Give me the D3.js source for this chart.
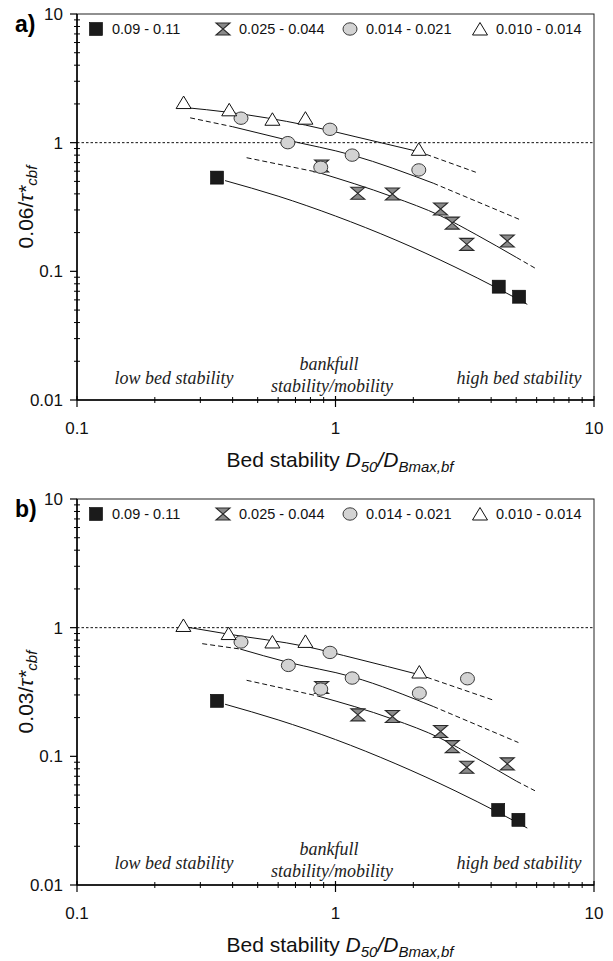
<!DOCTYPE html>
<html>
<head>
<meta charset="utf-8">
<script src="https://cdn.jsdelivr.net/npm/d3@7"></script>
<style>
  body { margin: 0; background: #fff; }
  svg { display: block; }
</style>
</head>
<body>
<div id="chart"></div>
<script>
// ---- data ----
var xTicks = [0.1, 1, 10];
var yTicks = [0.01, 0.1, 1, 10];
var legendLabels = ["0.09 - 0.11", "0.025 - 0.044", "0.014 - 0.021", "0.010 - 0.014"];
var zoneLabels = ["low bed stability", "bankfull", "stability/mobility", "high bed stability"];

// panel a) 0.06/tau*
var aSquares = [[0.348, 0.535], [4.28, 0.076], [5.13, 0.0635]];
var aHourglass = [[0.884, 0.659], [1.22, 0.404], [1.66, 0.399], [2.55, 0.305], [2.83, 0.237], [3.22, 0.162], [4.62, 0.172]];
var aCircles = [[0.431, 1.55], [0.654, 1.0], [0.877, 0.644], [0.952, 1.27], [1.16, 0.80], [2.10, 0.614]];
var aTriangles = [[0.2585, 2.05], [0.388, 1.80], [0.570, 1.52], [0.765, 1.55], [2.10, 0.888]];

var aSquareFit = [[0.374, 0.507], [0.6, 0.384], [1.0, 0.269], [1.7, 0.176], [2.9, 0.108], [4.3, 0.0726], [5.52, 0.0554]];
var aHourFit = [[0.453, 0.764], [0.85, 0.59], [1.66, 0.38], [2.55, 0.27], [3.5, 0.193], [5.02, 0.128], [5.91, 0.106]];
var aCircleFit = [[0.274, 1.56], [0.40, 1.33], [0.648, 1.05], [1.16, 0.80], [2.39, 0.484], [5.20, 0.251]];
var aTriangleFit = [[0.258, 1.88], [0.388, 1.72], [0.765, 1.37], [1.2, 1.11], [2.10, 0.851], [3.49, 0.589]];

// panel b) 0.03/tau*
var bSquares = [[0.348, 0.270], [4.26, 0.0383], [5.10, 0.0321]];
var bHourglass = [[0.884, 0.343], [1.22, 0.210], [1.66, 0.204], [2.55, 0.156], [2.83, 0.119], [3.22, 0.0822], [4.62, 0.0874]];
var bCircles = [[0.431, 0.774], [0.657, 0.509], [0.877, 0.333], [0.952, 0.642], [1.16, 0.406], [2.11, 0.310], [3.24, 0.401]];
var bTriangles = [[0.258, 1.04], [0.386, 0.90], [0.570, 0.774], [0.765, 0.782], [2.11, 0.452]];

var bSquareFit = [[0.374, 0.254], [0.6, 0.192], [1.0, 0.135], [1.7, 0.088], [2.9, 0.054], [4.3, 0.0363], [5.52, 0.0277]];
var bHourFit = [[0.453, 0.39], [0.85, 0.295], [1.66, 0.195], [2.55, 0.138], [3.5, 0.097], [5.02, 0.064], [5.91, 0.054]];
var bCircleFit = [[0.305, 0.751], [0.428, 0.682], [0.65, 0.54], [1.16, 0.415], [2.39, 0.244], [5.10, 0.128]];
var bTriangleFit = [[0.258, 1.02], [0.386, 0.89], [0.765, 0.715], [1.2, 0.575], [2.11, 0.431], [4.11, 0.272]];

// which point indices bound the solid part of each fit (rest dashed)
var aSolid = { sq: [0, 6], hg: [1, 5], ci: [1, 4], tr: [0, 4] };
var bSolid = { sq: [0, 6], hg: [1, 5], ci: [1, 4], tr: [0, 4] };

var W = 613, H = 961;
var left = 77, right = 594;

var svg = d3.select("#chart").append("svg")
    .attr("width", W).attr("height", H)
    .style("font-family", "'Liberation Sans', Arial, sans-serif");

var x = d3.scaleLog().domain([0.1, 10]).range([left, right]);

function hourglass() {
    var w = 7, h = 6;
    return "M" + (-w) + "," + (-h) + "L" + w + "," + (-h) + "L0,0L" + w + "," + h + "L" + (-w) + "," + h + "L0,0Z";
}
function triangle() { return "M0,-6.5L7.5,6L-7.5,6Z"; }

function marker(g, kind, cx, cy) {
    if (kind === "sq") {
        g.append("rect").attr("x", cx - 6.5).attr("y", cy - 6.5).attr("width", 13).attr("height", 13)
            .attr("fill", "#1b1b1b").attr("stroke", "#000").attr("stroke-width", 0.6);
    } else if (kind === "hg") {
        g.append("path").attr("d", hourglass()).attr("transform", "translate(" + cx + "," + cy + ")")
            .attr("fill", "#8a8a8a").attr("stroke", "#2a2a2a").attr("stroke-width", 1.1);
    } else if (kind === "ci") {
        g.append("ellipse").attr("cx", cx).attr("cy", cy).attr("rx", 7).attr("ry", 6.2)
            .attr("fill", "#d3d3d3").attr("stroke", "#3a3a3a").attr("stroke-width", 1);
    } else {
        g.append("path").attr("d", triangle()).attr("transform", "translate(" + cx + "," + cy + ")")
            .attr("fill", "#fff").attr("stroke", "#111").attr("stroke-width", 1);
    }
}

function drawPanel(top, bottom, tag, yNum, pts, fits, solid) {
    var y = d3.scaleLog().domain([0.01, 10]).range([bottom, top]);
    var g = svg.append("g");

    // y = 1 reference line
    g.append("line").attr("x1", left).attr("x2", right)
        .attr("y1", y(1)).attr("y2", y(1))
        .attr("stroke", "#111").attr("stroke-width", 1).attr("stroke-dasharray", "2.5,2");

    // frame
    g.append("rect").attr("x", left).attr("y", top).attr("width", right - left).attr("height", bottom - top)
        .attr("fill", "none").attr("stroke", "#222").attr("stroke-width", 1);
    g.append("line").attr("x1", left).attr("x2", left).attr("y1", top).attr("y2", bottom)
        .attr("stroke", "#000").attr("stroke-width", 1.5);
    g.append("line").attr("x1", left).attr("x2", right).attr("y1", bottom).attr("y2", bottom)
        .attr("stroke", "#000").attr("stroke-width", 1.5);

    // minor + major ticks
    var yMinor = [], xMinor = [];
    [0.01, 0.1, 1].forEach(function (d) { for (var k = 2; k < 10; k++) yMinor.push(d * k); });
    [0.1, 1].forEach(function (d) { for (var k = 2; k < 10; k++) xMinor.push(d * k); });

    g.selectAll(".ymin").data(yMinor).enter().append("line")
        .attr("x1", left - 3).attr("x2", left + 3)
        .attr("y1", function (d) { return y(d); }).attr("y2", function (d) { return y(d); })
        .attr("stroke", "#000").attr("stroke-width", 1);
    g.selectAll(".ymaj").data(yTicks).enter().append("line")
        .attr("x1", left - 7).attr("x2", left)
        .attr("y1", function (d) { return y(d); }).attr("y2", function (d) { return y(d); })
        .attr("stroke", "#000").attr("stroke-width", 1.2);
    g.selectAll(".xmin").data(xMinor).enter().append("line")
        .attr("x1", function (d) { return x(d); }).attr("x2", function (d) { return x(d); })
        .attr("y1", bottom - 3).attr("y2", bottom + 3)
        .attr("stroke", "#000").attr("stroke-width", 1);
    g.selectAll(".xmaj").data(xTicks).enter().append("line")
        .attr("x1", function (d) { return x(d); }).attr("x2", function (d) { return x(d); })
        .attr("y1", bottom - 4).attr("y2", bottom + 7)
        .attr("stroke", "#000").attr("stroke-width", 1.2);

    // tick labels
    g.selectAll(".ylab").data(yTicks).enter().append("text")
        .attr("x", left - 14).attr("y", function (d) { return y(d); })
        .attr("dy", "0.35em").attr("text-anchor", "end")
        .attr("font-size", 17).attr("fill", "#111")
        .text(function (d) { return d; });
    g.selectAll(".xlab").data(xTicks).enter().append("text")
        .attr("x", function (d) { return x(d); }).attr("y", bottom + 28)
        .attr("dy", "0.35em").attr("text-anchor", "middle")
        .attr("font-size", 17).attr("fill", "#111")
        .text(function (d) { return d; });

    // panel tag
    g.append("text").attr("x", 15).attr("y", top + 18)
        .attr("font-size", 23).attr("font-weight", "bold").text(tag);

    // y title
    var yt = g.append("text")
        .attr("transform", "translate(33," + ((top + bottom) / 2) + ") rotate(-90)")
        .attr("text-anchor", "middle").attr("font-size", 21).attr("fill", "#111");
    yt.append("tspan").text(yNum + "/");
    yt.append("tspan").attr("font-style", "italic").text("\u03C4*");
    yt.append("tspan").attr("font-style", "italic").attr("font-size", 15).attr("dy", 4).text("cbf");

    // x title
    var xt = g.append("text").attr("x", 340).attr("y", bottom + 67)
        .attr("text-anchor", "middle").attr("font-size", 21).attr("fill", "#111");
    xt.append("tspan").text("Bed stability ");
    xt.append("tspan").attr("font-style", "italic").text("D");
    xt.append("tspan").attr("font-style", "italic").attr("font-size", 15).attr("dy", 5).text("50");
    xt.append("tspan").attr("font-style", "italic").attr("dy", -5).text("/D");
    xt.append("tspan").attr("font-style", "italic").attr("font-size", 15).attr("dy", 5).text("Bmax,bf");

    // zone annotations
    var serif = "'Liberation Serif', 'Times New Roman', serif";
    var zx = [174, 329, 332, 519], zy = [bottom - 16, bottom - 30, bottom - 8, bottom - 16];
    zoneLabels.forEach(function (t, i) {
        g.append("text").attr("x", zx[i]).attr("y", zy[i]).attr("text-anchor", "middle")
            .attr("font-family", serif).attr("font-style", "italic").attr("font-size", 18)
            .attr("fill", "#222").text(t);
    });

    // legend
    var lx = [96, 223, 350, 480], kinds = ["sq", "hg", "ci", "tr"];
    var ly = top + 15;
    kinds.forEach(function (k, i) {
        marker(g, k, lx[i], ly);
        g.append("text").attr("x", lx[i] + 16).attr("y", ly).attr("dy", "0.35em")
            .attr("font-size", 14.5).attr("fill", "#111").text(legendLabels[i]);
    });

    // fitted curves
    var line = d3.line().x(function (d) { return x(d[0]); }).y(function (d) { return y(d[1]); })
        .curve(d3.curveMonotoneX);
    kinds.forEach(function (k) {
        var p = fits[k], s = solid[k];
        var parts = [
            { d: p.slice(0, s[0] + 1), dash: "5,3" },
            { d: p.slice(s[0], s[1] + 1), dash: null },
            { d: p.slice(s[1]), dash: "5,3" }
        ];
        parts.forEach(function (part) {
            if (part.d.length < 2) return;
            g.append("path").attr("d", line(part.d)).attr("fill", "none")
                .attr("stroke", "#111").attr("stroke-width", 1)
                .attr("stroke-dasharray", part.dash);
        });
    });

    // markers
    kinds.forEach(function (k) {
        pts[k].forEach(function (d) { marker(g, k, x(d[0]), y(d[1])); });
    });
}

drawPanel(14, 400, "a)", "0.06",
    { sq: aSquares, hg: aHourglass, ci: aCircles, tr: aTriangles },
    { sq: aSquareFit, hg: aHourFit, ci: aCircleFit, tr: aTriangleFit }, aSolid);
drawPanel(499, 885, "b)", "0.03",
    { sq: bSquares, hg: bHourglass, ci: bCircles, tr: bTriangles },
    { sq: bSquareFit, hg: bHourFit, ci: bCircleFit, tr: bTriangleFit }, bSolid);
</script>
</body>
</html>
